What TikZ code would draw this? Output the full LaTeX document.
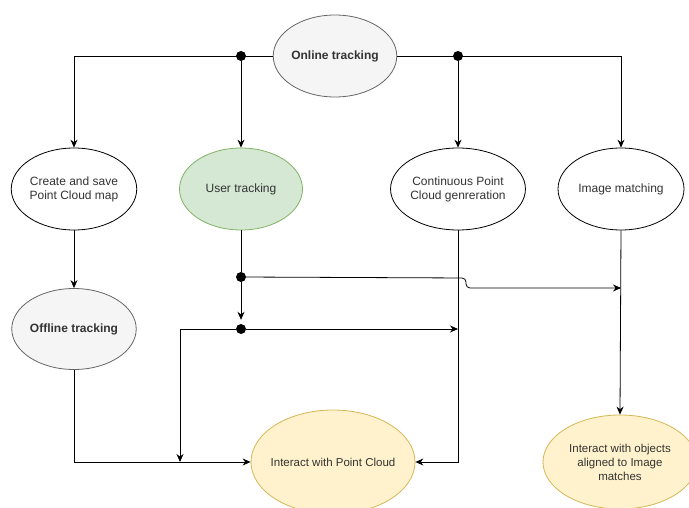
\documentclass[tikz,border=0pt]{standalone}
\usepackage{fontspec}
\setmainfont{Liberation Sans}
\usepackage{xcolor}
\usepackage{tikz}
\usetikzlibrary{shapes.geometric,arrows.meta,positioning,calc}

\definecolor{greyfill}{HTML}{F5F5F5}
\definecolor{greyline}{HTML}{666666}
\definecolor{greenfill}{HTML}{D5E8D4}
\definecolor{greenline}{HTML}{82B366}
\definecolor{yellowfill}{HTML}{FFF2CC}
\definecolor{yellowline}{HTML}{D6B656}
\definecolor{txt}{HTML}{333333}

\tikzset{
    oval/.style={ellipse, draw=black, fill=white, line width=0.8pt, inner sep=0pt,
        text=txt, align=center, font=\fontsize{12}{14}\selectfont},
    greyoval/.style={oval, draw=greyline, fill=greyfill, font=\fontsize{12}{14}\selectfont\bfseries},
    greenoval/.style={oval, draw=greenline, fill=greenfill},
    yellowoval/.style={oval, draw=yellowline, fill=yellowfill, font=\fontsize{11.5}{14}\selectfont},
    arr/.style={-{Stealth[length=8pt,width=7pt]}, line width=0.8pt},
    dot/.style={circle, fill=black, inner sep=0pt, minimum size=10pt}
}

\begin{document}
\begin{tikzpicture}[x=1pt,y=-1pt]
    \useasboundingbox (0,0) rectangle (689,508);

    % ellipses
    \node[greyoval, minimum width=123, minimum height=82] (online) at (335,56) {Online tracking};
    \node[oval, minimum width=124, minimum height=82] (create) at (74,189) {Create and save\\Point Cloud map};
    \node[greenoval, minimum width=123, minimum height=82] (user) at (241,189) {User tracking};
    \node[oval, minimum width=124, minimum height=82] (continuous) at (458,189) {Continuous Point\\Cloud genreration};
    \node[oval, minimum width=126, minimum height=82] (matching) at (621,189) {Image matching};
    \node[greyoval, minimum width=124, minimum height=81] (offline) at (74,329) {Offline tracking};
    \node[yellowoval, inner xsep=-12pt, minimum width=164, minimum height=104] (interactpc) at (333,462) {Interact with Point Cloud};
    \node[yellowoval, inner xsep=-6pt, minimum width=154, minimum height=94] (interactobj) at (620,462) {Interact with objects\\aligned to Image\\matches};

    % junctions
    \node[dot] (dotA) at (241,56) {};
    \node[dot] (dotB) at (458,56) {};
    \node[dot] (dotC) at (241,277) {};
    \node[dot] (dotD) at (241,329) {};
    \coordinate (split) at (180,329);
    \coordinate (jog) at (466,278);
    \coordinate (bottomjoin) at (180,462);

    % top fan-out
    \draw[arr] (online.west) -| (create.north);
    \draw[arr] (dotA) -- (dotA |- user.north);
    \draw[arr] (online.east) -| (matching.north);
    \draw[arr] (dotB) -- (dotB |- continuous.north);

    % middle
    \draw[arr] (create) -- (offline);
    \draw[line width=0.8pt] (user.south) -- (dotC);
    \draw[arr, shorten >=4pt] (dotC) -- (dotD);
    \draw[arr, rounded corners=4pt] (dotC) -- (jog) -- ++(0,10) -- (matching.south |- 0,288);
    \draw[arr] (dotD) -- (continuous.south |- dotD);
    \draw[arr] (dotD) -- (split) -- (bottomjoin);

    % bottom
    \draw[arr] (offline.south) |- (interactpc.west);
    \draw[arr] (continuous.south) |- (interactpc.east);
    \draw[arr] (matching.south) -- (interactobj.north);
\end{tikzpicture}
\end{document}
